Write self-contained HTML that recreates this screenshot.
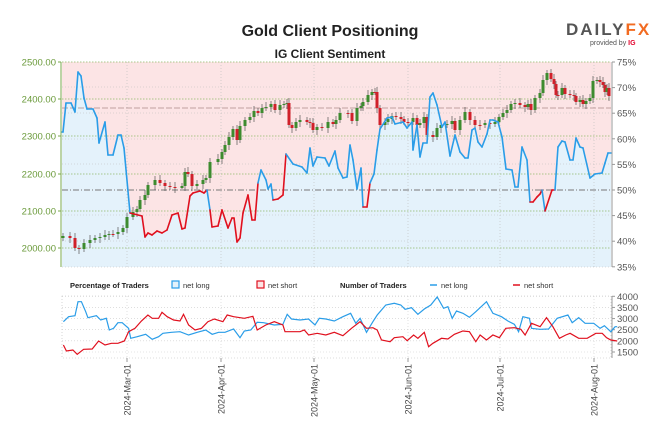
<!DOCTYPE html>
<html><head><meta charset="utf-8"><style>
body{margin:0;background:#fff;}
svg{display:block;font-family:"Liberation Sans",sans-serif;}
</style></head><body>
<svg id="s" width="670" height="422" viewBox="0 0 670 422" xmlns="http://www.w3.org/2000/svg">
<text x="330" y="36" text-anchor="middle" font-size="16" font-weight="bold" fill="#222">Gold Client Positioning</text>
<text x="330" y="58" text-anchor="middle" font-size="12" font-weight="bold" fill="#222">IG Client Sentiment</text>
<text x="566" y="35" font-size="17" font-weight="bold" fill="#555" letter-spacing="2">DAILY<tspan fill="#f26b21">FX</tspan></text>
<text x="590" y="45" font-size="7" fill="#555">provided by <tspan fill="#e4002b" font-weight="bold">IG</tspan></text>
<g id="main"></g>
<g id="bot"></g>
</svg>
<script>
const NS="http://www.w3.org/2000/svg";
function el(p,t,a,txt){const e=document.createElementNS(NS,t);for(const k in a)e.setAttribute(k,a[k]);if(txt!==undefined)e.textContent=txt;p.appendChild(e);return e;}
const M=document.getElementById('main'),B=document.getElementById('bot');
const L=62,R=611,T=62,BT=267;
el(M,'rect',{x:L,y:T,width:R-L,height:BT-T,fill:'#fce4e5'});
const s=[[62,132],[63,132],[66,103],[71,103],[75,112],[78,72],[81,76],[84,98],[87,109],[93,109],[97,118],[99,143],[105,122],[108,155],[113,155],[118,135],[121,135],[124,148],[130,213],[142,216],[145,237],[148,233],[152,235],[157,231],[162,233],[167,230],[172,215],[178,213],[182,229],[185,228],[190,196],[193,193],[200,191],[204,193],[207,190],[210,210],[212,227],[218,226],[222,210],[228,228],[232,218],[234,218],[237,242],[240,238],[243,213],[248,195],[252,220],[255,220],[258,183],[261,170],[266,180],[268,189],[271,184],[273,200],[278,199],[283,195],[286,154],[293,164],[302,167],[307,173],[310,148],[313,166],[317,157],[325,158],[329,166],[335,151],[338,168],[343,178],[347,177],[350,145],[353,160],[357,189],[361,168],[363,207],[367,207],[370,183],[374,174],[377,150],[380,129],[387,118],[392,117],[395,124],[403,122],[407,128],[412,122],[413,150],[417,125],[420,157],[423,143],[427,143],[430,97],[433,93],[437,105],[442,127],[445,122],[450,156],[455,135],[460,152],[465,158],[468,158],[472,130],[475,128],[478,142],[482,147],[487,134],[490,120],[493,120],[498,122],[502,137],[506,169],[512,170],[515,187],[518,187],[522,147],[527,160],[530,202],[533,202],[537,197],[540,194],[542,190],[545,211],[552,190],[555,190],[558,147],[562,141],[565,142],[570,160],[573,160],[576,138],[580,147],[583,148],[590,178],[595,174],[602,173],[605,163],[608,153],[611,153]];
el(M,'path',{d:'M'+s.map(p=>p.join(',')).join('L')+`L${R},${BT}L${L},${BT}Z`,fill:'#e4f2fb'});
// grid
[62,99,136,174,211,248].forEach(y=>el(M,'line',{x1:L,x2:R,y1:y,y2:y,stroke:'#8fb86a','stroke-width':0.8,'stroke-dasharray':'1.5,1.5'}));
[87,113,139,164,215,241,267].forEach(y=>el(M,'line',{x1:L,x2:R,y1:y,y2:y,stroke:'#bbb','stroke-width':0.6,'stroke-dasharray':'1,2'}));
[127,221,314,408,500,594].forEach(x=>{el(M,'line',{x1:x,x2:x,y1:T,y2:BT,stroke:'#bbb','stroke-width':0.6,'stroke-dasharray':'1,2'});});
el(M,'line',{x1:L,x2:R,y1:190,y2:190,stroke:'#777','stroke-width':1,'stroke-dasharray':'6,2,1,2'});
el(M,'line',{x1:L,x2:R,y1:108,y2:108,stroke:'#a88','stroke-width':0.8,'stroke-dasharray':'6,2'});
// candles
const c=[[63,236],[70,238],[75,248],[79,249],[84,243],[90,240],[95,238],[100,237],[105,235],[109,234],[113,234],[118,232],[123,228],[127,217],[133,212],[137,209],[140,200],[145,195],[148,185],[155,180],[160,183],[165,186],[170,187],[175,188],[182,186],[185,172],[188,174],[192,186],[197,184],[203,180],[206,178],[210,162],[218,159],[222,152],[225,145],[229,137],[233,129],[237,140],[240,126],[245,120],[250,117],[254,111],[258,113],[262,108],[266,107],[271,104],[275,110],[280,105],[284,104],[287,103],[289,125],[292,128],[296,122],[300,120],[307,122],[310,123],[313,130],[317,127],[322,128],[328,122],[333,124],[336,120],[340,113],[348,113],[352,121],[357,108],[361,106],[363,102],[368,95],[372,92],[375,92],[377,108],[380,125],[385,122],[388,119],[392,116],[396,117],[401,119],[404,122],[408,122],[413,118],[417,125],[420,123],[424,117],[427,135],[433,137],[437,128],[441,125],[447,124],[452,121],[455,130],[460,120],[465,112],[470,120],[475,125],[480,125],[485,123],[490,124],[495,122],[499,117],[503,113],[507,110],[511,104],[515,103],[520,105],[525,107],[528,104],[531,110],[535,98],[540,93],[543,80],[547,73],[551,79],[554,84],[556,95],[558,95],[562,88],[565,94],[570,95],[574,96],[576,102],[580,100],[583,104],[586,101],[590,98],[593,81],[597,80],[600,82],[603,85],[605,92],[607,88],[609,96]];
for(let i=0;i<c.length;i++){const [x,y]=c[i];const o=i?c[i-1][1]:y+2;const up=y<o;const top=Math.min(o,y),bot=Math.max(o,y);
el(M,'line',{x1:x,x2:x,y1:top-3-(i%3),y2:bot+3+(i%2)*2,stroke:'#555','stroke-width':0.7});
el(M,'rect',{x:x-1.5,y:top,width:3,height:Math.max(1,bot-top),fill:up?'#3d8b2f':'#d0202a'});}
// sentiment line with red ranges
const red=[[130,207],[210,258],[273,286],[363,370],[530,542],[545,555]];
function isRed(x){return red.some(r=>x>=r[0]&&x<=r[1]);}
for(let i=1;i<s.length;i++){const a=s[i-1],b=s[i];el(M,'line',{x1:a[0],y1:a[1],x2:b[0],y2:b[1],stroke:isRed((a[0]+b[0])/2)?'#e0101e':'#2a9de8','stroke-width':1.6,'stroke-linecap':'round'});}
// axes
el(M,'line',{x1:L-1,x2:L-1,y1:T,y2:BT,stroke:'#7aa84e','stroke-width':1});
el(M,'line',{x1:R+1,x2:R+1,y1:T,y2:BT,stroke:'#999','stroke-width':1});
[[2500,62],[2400,99],[2300,136],[2200,174],[2100,211],[2000,248]].forEach(([v,y])=>{el(M,'line',{x1:L-4,x2:L-1,y1:y,y2:y,stroke:'#7aa84e'});el(M,'text',{x:L-6,y:y+3.5,'text-anchor':'end','font-size':9.5,fill:'#6a9a3a'},v.toFixed(2));});
for(let i=0;i<9;i++){const y=62+i*25.6;el(M,'line',{x1:R+1,x2:R+4,y1:y,y2:y,stroke:'#999'});el(M,'text',{x:R+6,y:y+3.5,'font-size':9.5,fill:'#555'},(75-5*i)+'%');}
// legend
el(B,'text',{x:70,y:288,'font-size':7.5,'font-weight':'bold',fill:'#222'},'Percentage of Traders');
el(B,'rect',{x:172,y:281,width:7,height:7,fill:'#e4f2fb',stroke:'#2a9de8','stroke-width':1.2});
el(B,'text',{x:183,y:288,'font-size':7.5,fill:'#333'},'net long');
el(B,'rect',{x:257,y:281,width:7,height:7,fill:'#fce4e5',stroke:'#e0101e','stroke-width':1.2});
el(B,'text',{x:268,y:288,'font-size':7.5,fill:'#333'},'net short');
el(B,'text',{x:340,y:288,'font-size':7.5,'font-weight':'bold',fill:'#222'},'Number of Traders');
el(B,'line',{x1:430,x2:437,y1:285,y2:285,stroke:'#2a9de8','stroke-width':1.5});
el(B,'text',{x:441,y:288,'font-size':7.5,fill:'#333'},'net long');
el(B,'line',{x1:513,x2:520,y1:285,y2:285,stroke:'#e0101e','stroke-width':1.5});
el(B,'text',{x:524,y:288,'font-size':7.5,fill:'#333'},'net short');
// bottom panel
const bT=296,bB=358;
el(B,'rect',{x:L,y:bT,width:R-L,height:bB-bT,fill:'none',stroke:'#bbb','stroke-width':0.6,'stroke-dasharray':'1,2'});
const yv=v=>296.3+(4000-v)/2500*55.7;
[4000,3500,3000,2500,2000,1500].forEach(v=>{const y=yv(v);el(B,'line',{x1:L,x2:R,y1:y,y2:y,stroke:'#ccc','stroke-width':0.6,'stroke-dasharray':'1,2'});el(B,'line',{x1:R+1,x2:R+4,y1:y,y2:y,stroke:'#999'});el(B,'text',{x:R+6,y:y+3.5,'font-size':9.5,fill:'#555'},v);});
el(B,'line',{x1:R+1,x2:R+1,y1:bT,y2:bB,stroke:'#999'});
const dates=[[127,'2024-Mar-01'],[221,'2024-Apr-01'],[314,'2024-May-01'],[408,'2024-Jun-01'],[500,'2024-Jul-01'],[594,'2024-Aug-01']];
dates.forEach(([x,t])=>{el(B,'line',{x1:x,x2:x,y1:bT,y2:bB,stroke:'#ccc','stroke-width':0.6,'stroke-dasharray':'1,2'});el(B,'line',{x1:x,x2:x,y1:bB,y2:bB+4,stroke:'#999'});el(B,'text',{x:0,y:0,'font-size':9,fill:'#444','text-anchor':'end',transform:`translate(${x+3.5},${bB+6}) rotate(-90)`},t);});
const sx=2.333;
const nl=[[148,140],[160,125],[175,122],[182,80],[190,80],[200,110],[205,128],[225,122],[235,135],[248,130],[255,165],[265,160],[275,143],[285,143],[300,160],[305,190],[320,185],[340,178],[355,193],[370,185],[380,175],[400,172],[420,170],[440,180],[460,172],[480,165],[495,178],[510,172],[525,172],[545,162],[560,188],[570,168],[585,165],[600,142],[615,143],[640,150],[660,148],[670,118],[680,132],[700,135],[720,132],[735,150],[745,130],[760,132],[780,138],[800,125],[818,115],[830,145],[840,130],[855,172],[870,140],[880,120],[900,90],[920,85],[935,90],[945,103],[960,98],[975,118],[990,102],[1005,90],[1020,66],[1035,100],[1045,95],[1055,130],[1065,108],[1080,115],[1095,127],[1110,110],[1135,80],[1150,115],[1170,125],[1185,138],[1200,148],[1210,170],[1220,125],[1235,130],[1240,160],[1260,163],[1280,162],[1300,130],[1325,120],[1335,143],[1350,128],[1365,145],[1385,145],[1400,160],[1410,152],[1425,170],[1435,155],[1440,155]];
const ns=[[148,210],[155,228],[170,225],[180,238],[195,223],[215,222],[230,198],[245,210],[260,205],[275,205],[290,198],[300,170],[315,160],[330,138],[345,120],[355,130],[370,130],[378,112],[390,125],[405,135],[420,138],[428,118],[440,150],[455,165],[470,160],[485,140],[500,132],[520,140],[530,120],[545,125],[570,130],[590,124],[600,165],[620,150],[640,140],[660,150],[665,170],[700,170],[710,165],[720,180],[740,175],[760,180],[780,172],[800,182],[820,160],[840,140],[855,160],[870,158],[880,165],[890,195],[910,200],[920,188],[940,185],[950,197],[965,180],[975,190],[990,172],[1000,215],[1010,205],[1030,190],[1045,192],[1060,178],[1080,168],[1095,170],[1110,200],[1120,180],[1135,195],[1150,180],[1165,188],[1180,160],[1200,158],[1215,163],[1225,180],[1240,145],[1260,155],[1275,128],[1290,155],[1305,190],[1320,180],[1330,175],[1350,190],[1370,190],[1390,175],[1405,175],[1415,188],[1425,195],[1440,198]];
const pth=a=>'M'+a.map(([x,y])=>(x/sx).toFixed(1)+','+(275+y/3).toFixed(1)).join('L');
el(B,'path',{d:pth(nl),fill:'none',stroke:'#2a9de8','stroke-width':1.2});
el(B,'path',{d:pth(ns),fill:'none',stroke:'#e0101e','stroke-width':1.2});
</script>
</body></html>
